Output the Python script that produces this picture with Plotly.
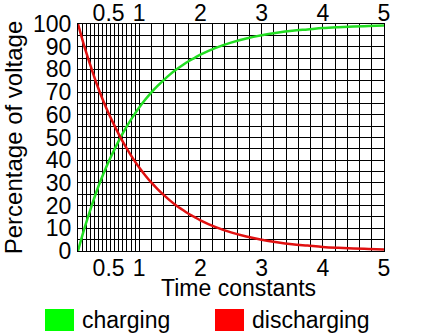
import numpy as np
import plotly.graph_objects as go

# ---- data ----
time_constants = [0, 0.1, 0.2, 0.3, 0.4, 0.5, 0.6, 0.7, 0.8, 0.9, 1.0, 1.1, 1.2, 1.3, 1.4,
                  1.5, 1.6, 1.7, 1.8, 1.9, 2.0, 2.25, 2.5, 2.75, 3.0, 3.25, 3.5, 3.75,
                  4.0, 4.25, 4.5, 4.75, 5.0]
charging = [0, 9.5, 18, 26, 33, 39.3, 45, 50.3, 55, 59.3, 63.2, 66.7, 69.9, 72.7, 75.3,
            77.7, 79.8, 81.7, 83.5, 85, 86.5, 89.5, 91.8, 93.6, 95, 96.1, 97, 97.6,
            98.2, 98.6, 98.9, 99.1, 99.3]
discharging = [100, 90.5, 82, 74, 67, 60.7, 55, 49.7, 45, 40.7, 36.8, 33.3, 30.1, 27.3, 24.7,
               22.3, 20.2, 18.3, 16.5, 15, 13.5, 10.5, 8.2, 6.4, 5, 3.9, 3, 2.4,
               1.8, 1.4, 1.1, 0.9, 0.7]

x_tick_vals = [0.5, 1, 2, 3, 4, 5]
x_tick_text = ["0.5", "1", "2", "3", "4", "5"]
y_tick_vals = [0, 10, 20, 30, 40, 50, 60, 70, 80, 90, 100]

# grid positions: fine spacing up to 1, then every 0.2
x_grid = list(np.linspace(0, 1, 16)) + list(np.arange(1.2, 5.01, 0.2))
y_grid = list(range(0, 101, 5))

FONT = "Liberation Sans, Arial, sans-serif"
GREEN = "#22dd22"
RED = "#e01010"

W, H = 423, 335
L, R, T, B = 78, 39, 24, 84
pw, ph = W - L - R, H - T - B

def px(xp):
    return (xp - L) / pw

def py(yp):
    return (H - B - yp) / ph

fig = go.Figure()
fig.add_trace(go.Scatter(x=time_constants, y=charging, mode="lines", name="charging",
                         line=dict(color=GREEN, width=2.5, shape="spline", smoothing=1),
                         showlegend=False))
fig.add_trace(go.Scatter(x=time_constants, y=discharging, mode="lines", name="discharging",
                         line=dict(color=RED, width=2.5, shape="spline", smoothing=1),
                         showlegend=False))
# invisible traces so the extra axes get drawn
fig.add_trace(go.Scatter(x=[0, 5], y=[0, 100], xaxis="x2", mode="markers",
                         marker=dict(opacity=0), showlegend=False, hoverinfo="skip"))
fig.add_trace(go.Scatter(x=[0, 5], y=[0, 100], xaxis="x3", mode="markers",
                         marker=dict(opacity=0), showlegend=False, hoverinfo="skip"))

tickfont = dict(family=FONT, size=23, color="black")

fig.update_layout(
    width=W, height=H,
    margin=dict(l=L, r=R, t=T, b=B, autoexpand=False),
    paper_bgcolor="white", plot_bgcolor="white",
    font=dict(family=FONT, size=23, color="black"),
    xaxis=dict(range=[0, 5], tickmode="array", tickvals=x_tick_vals, ticktext=x_tick_text,
               tickfont=tickfont, showgrid=False, zeroline=False, ticks="",
               showline=True, linecolor="black", linewidth=1, mirror=True,
               automargin=False, ticklabelstandoff=-4),
    xaxis2=dict(range=[0, 5], overlaying="x", side="top", matches="x", tickmode="array",
                tickvals=x_tick_vals, ticktext=x_tick_text, tickfont=tickfont,
                showgrid=False, zeroline=False, ticks="", automargin=False, ticklabelstandoff=-3),
    xaxis3=dict(range=[0, 5], overlaying="x", matches="x", tickmode="array", tickvals=x_grid,
                showticklabels=False, showgrid=True, gridcolor="black", gridwidth=1,
                zeroline=False, ticks="", automargin=False),
    yaxis=dict(range=[0, 100], tickmode="array", tickvals=y_tick_vals, tickfont=tickfont,
               showgrid=False, zeroline=False, ticks="",
               showline=True, linecolor="black", linewidth=1, mirror=True,
               minor=dict(tickmode="array", tickvals=y_grid, showgrid=True,
                          gridcolor="black", gridwidth=1, ticks=""),
               title=dict(text="Percentage of voltage", font=dict(family=FONT, size=24), standoff=4),
               automargin=False, ticklabelstandoff=1),
    shapes=[
        dict(type="rect", xref="paper", yref="paper", x0=px(45), x1=px(74), y0=py(331), y1=py(309),
             fillcolor="#00ff00", line=dict(width=0)),
        dict(type="rect", xref="paper", yref="paper", x0=px(215), x1=px(244), y0=py(331), y1=py(309),
             fillcolor="#ff0000", line=dict(width=0)),
    ],
    annotations=[
        dict(text="Time constants", xref="paper", yref="paper", x=px(238), y=py(288),
             xanchor="center", yanchor="middle", showarrow=False, font=dict(family=FONT, size=23)),
        dict(text="charging", xref="paper", yref="paper", x=px(80), y=py(320), xanchor="left",
             yanchor="middle", showarrow=False, font=dict(family=FONT, size=23)),
        dict(text="discharging", xref="paper", yref="paper", x=px(250), y=py(320), xanchor="left",
             yanchor="middle", showarrow=False, font=dict(family=FONT, size=23)),
    ],
)

fig.write_html("out.html")
